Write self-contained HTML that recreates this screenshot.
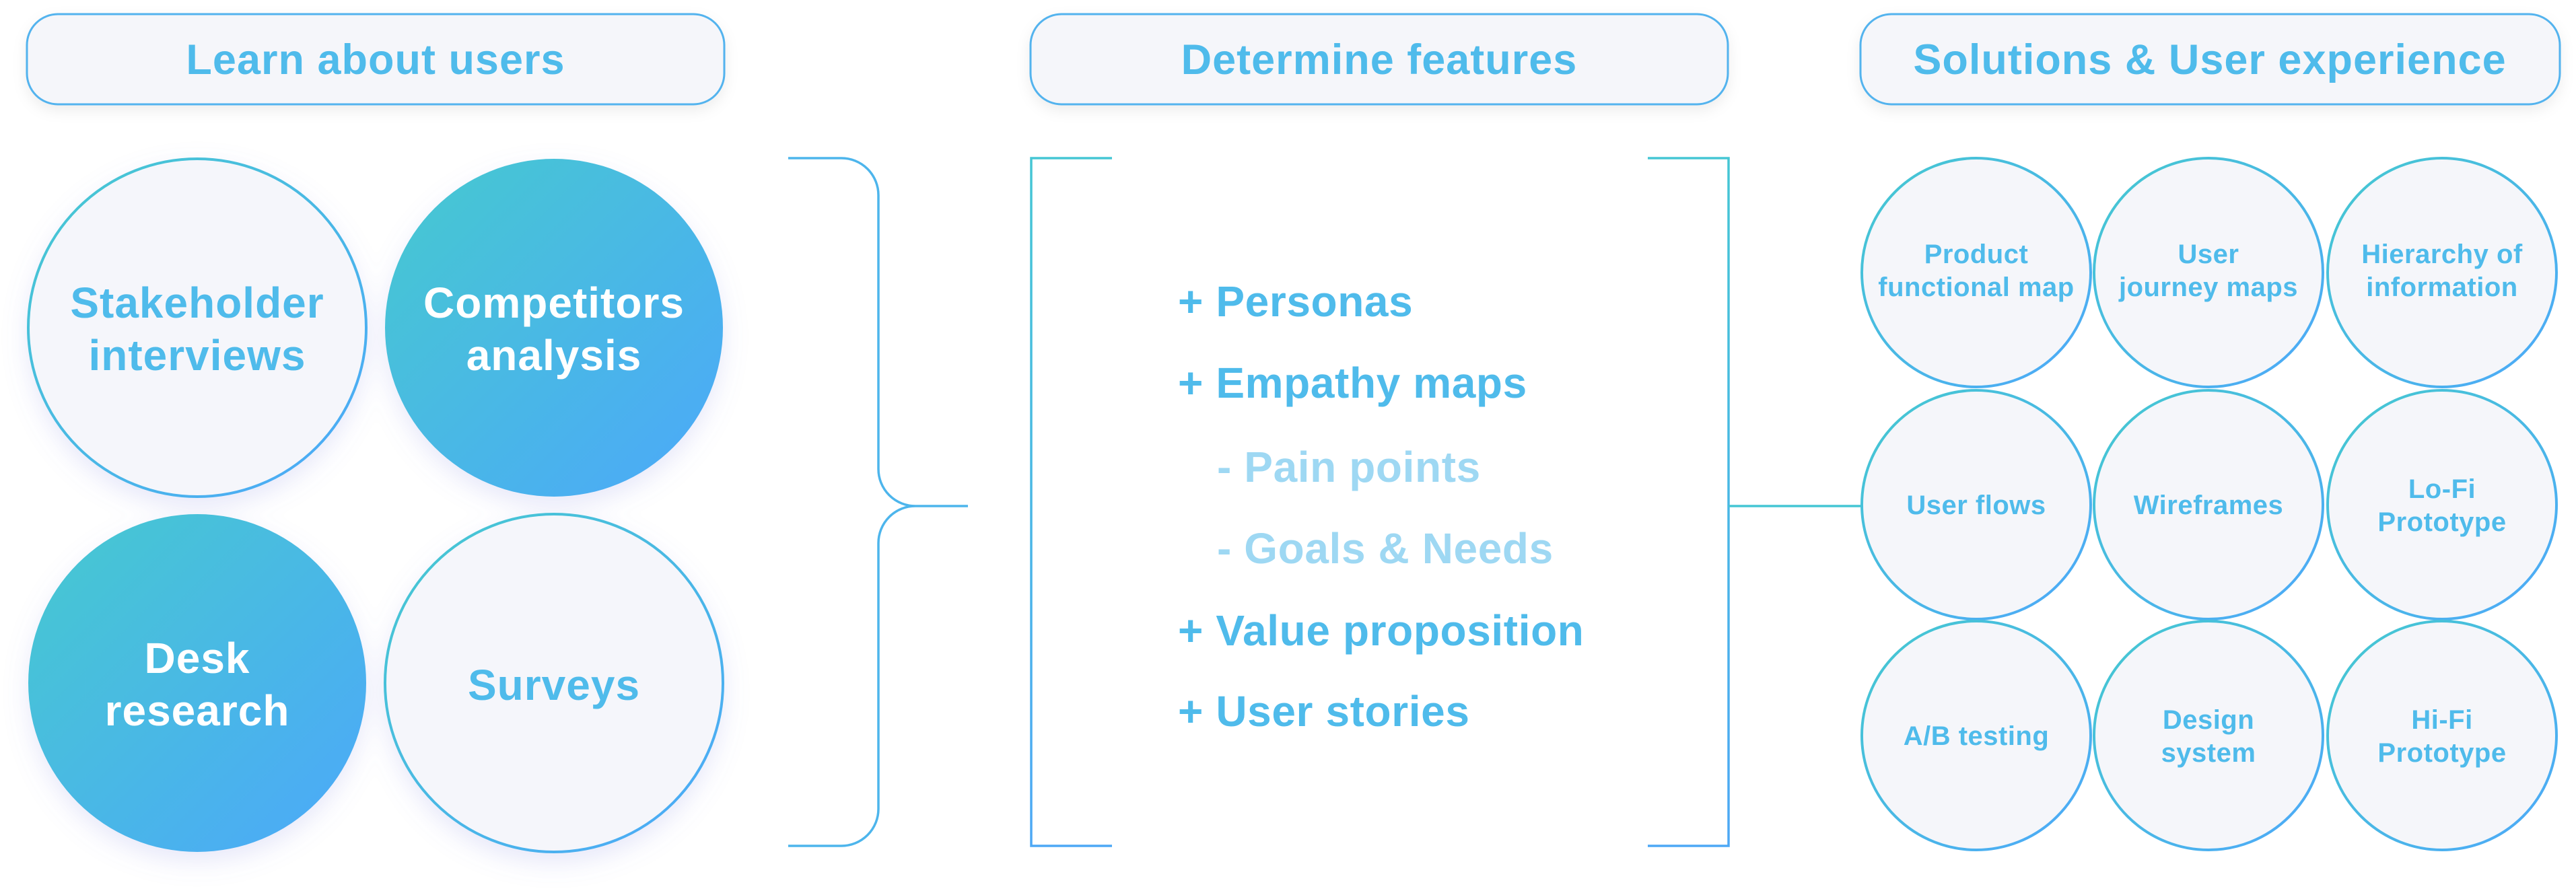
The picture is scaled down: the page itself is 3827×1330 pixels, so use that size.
<!DOCTYPE html>
<html><head><meta charset="utf-8"><style>
html,body{margin:0;padding:0;background:#fff;}
svg{display:block;}
text{font-family:"Liberation Sans",sans-serif;font-weight:bold;}
</style></head><body>
<svg width="3827" height="1330" viewBox="0 0 3827 1330" xmlns="http://www.w3.org/2000/svg">
<defs>
<linearGradient id="gf" x1="0" y1="0" x2="1" y2="1"><stop offset="0" stop-color="#45C9CF"/><stop offset="1" stop-color="#4DA8FA"/></linearGradient>
<linearGradient id="gs" x1="0" y1="0" x2="1" y2="1"><stop offset="0" stop-color="#45C9CF"/><stop offset="1" stop-color="#4DA8FA"/></linearGradient>
<linearGradient id="gv" x1="0" y1="0" x2="0" y2="1"><stop offset="0" stop-color="#45C6D4"/><stop offset="1" stop-color="#4DA8F5"/></linearGradient>
<filter id="sh" x="-30%" y="-30%" width="160%" height="160%"><feDropShadow dx="0" dy="14" stdDeviation="18" flood-color="#7A7FE0" flood-opacity="0.18"/></filter>
<filter id="hs" x="-10%" y="-40%" width="120%" height="180%"><feDropShadow dx="0" dy="8" stdDeviation="10" flood-color="#000" flood-opacity="0.07"/></filter>
</defs>

<g fill="#F5F6FA" stroke="#53B3EE" stroke-width="3" filter="url(#hs)">
<rect x="40" y="21" width="1036" height="134" rx="46"/>
<rect x="1531" y="21" width="1036" height="134" rx="46"/>
<rect x="2764" y="21" width="1039" height="134" rx="46"/>
</g>
<g fill="#4FBBEB" font-size="63" text-anchor="middle" letter-spacing="1">
<text x="558" y="110">Learn about users</text>
<text x="2049" y="110">Determine features</text>
<text x="3283" y="110">Solutions &amp; User experience</text>
</g>

<g filter="url(#sh)" stroke="url(#gs)" stroke-width="4">
<circle cx="293" cy="487" r="251" fill="#F5F6FB"/>
<circle cx="823" cy="487" r="251" fill="url(#gf)" stroke="none"/>
<circle cx="293" cy="1015" r="251" fill="url(#gf)" stroke="none"/>
<circle cx="823" cy="1015" r="251" fill="#F5F6FB"/>
</g>
<g font-size="64" text-anchor="middle" letter-spacing="1">
<text x="293" y="472" fill="#4FBBEB">Stakeholder</text>
<text x="293" y="550" fill="#4FBBEB">interviews</text>
<text x="823" y="472" fill="#fff">Competitors</text>
<text x="823" y="550" fill="#fff">analysis</text>
<text x="293" y="1000" fill="#fff">Desk</text>
<text x="293" y="1078" fill="#fff">research</text>
<text x="823" y="1040" fill="#4FBBEB">Surveys</text>
</g>

<path d="M1171 235 H1250 A55 55 0 0 1 1305 290 V697 A55 55 0 0 0 1360 752 H1438 M1360 752 A55 55 0 0 0 1305 807 V1202 A55 55 0 0 1 1250 1257 H1171" fill="none" stroke="#4DB5EC" stroke-width="3.5"/>

<path d="M1652 235 H1532 V1257 H1652" fill="none" stroke="url(#gv)" stroke-width="3.5"/>
<path d="M2448 235 H2568 V1257 H2448" fill="none" stroke="url(#gv)" stroke-width="3.5"/>
<line x1="2568" y1="752" x2="2766" y2="752" stroke="#45C6D4" stroke-width="3.5"/>

<g font-size="64" letter-spacing="0.6">
<text x="1750" y="470" fill="#4FBBEB">+ Personas</text>
<text x="1750" y="591" fill="#4FBBEB">+ Empathy maps</text>
<text x="1808" y="716" fill="#9ED8F3">- Pain points</text>
<text x="1808" y="837" fill="#9ED8F3">- Goals &amp; Needs</text>
<text x="1750" y="959" fill="#4FBBEB">+ Value proposition</text>
<text x="1750" y="1079" fill="#4FBBEB">+ User stories</text>
</g>

<g fill="#F5F6FA" stroke="url(#gs)" stroke-width="4">
<circle cx="2936" cy="405" r="170"/><circle cx="3281" cy="405" r="170"/><circle cx="3628" cy="405" r="170"/>
<circle cx="2936" cy="750" r="170"/><circle cx="3281" cy="750" r="170"/><circle cx="3628" cy="750" r="170"/>
<circle cx="2936" cy="1093" r="170"/><circle cx="3281" cy="1093" r="170"/><circle cx="3628" cy="1093" r="170"/>
</g>
<g fill="#4FBBEB" font-size="40" text-anchor="middle" letter-spacing="0.5">
<text x="2936" y="391">Product</text><text x="2936" y="440">functional map</text>
<text x="3281" y="391">User</text><text x="3281" y="440">journey maps</text>
<text x="3628" y="391">Hierarchy of</text><text x="3628" y="440">information</text>
<text x="2936" y="764">User flows</text>
<text x="3281" y="764">Wireframes</text>
<text x="3628" y="740">Lo-Fi</text><text x="3628" y="789">Prototype</text>
<text x="2936" y="1107">A/B testing</text>
<text x="3281" y="1083">Design</text><text x="3281" y="1132">system</text>
<text x="3628" y="1083">Hi-Fi</text><text x="3628" y="1132">Prototype</text>
</g>
</svg>
</body></html>
